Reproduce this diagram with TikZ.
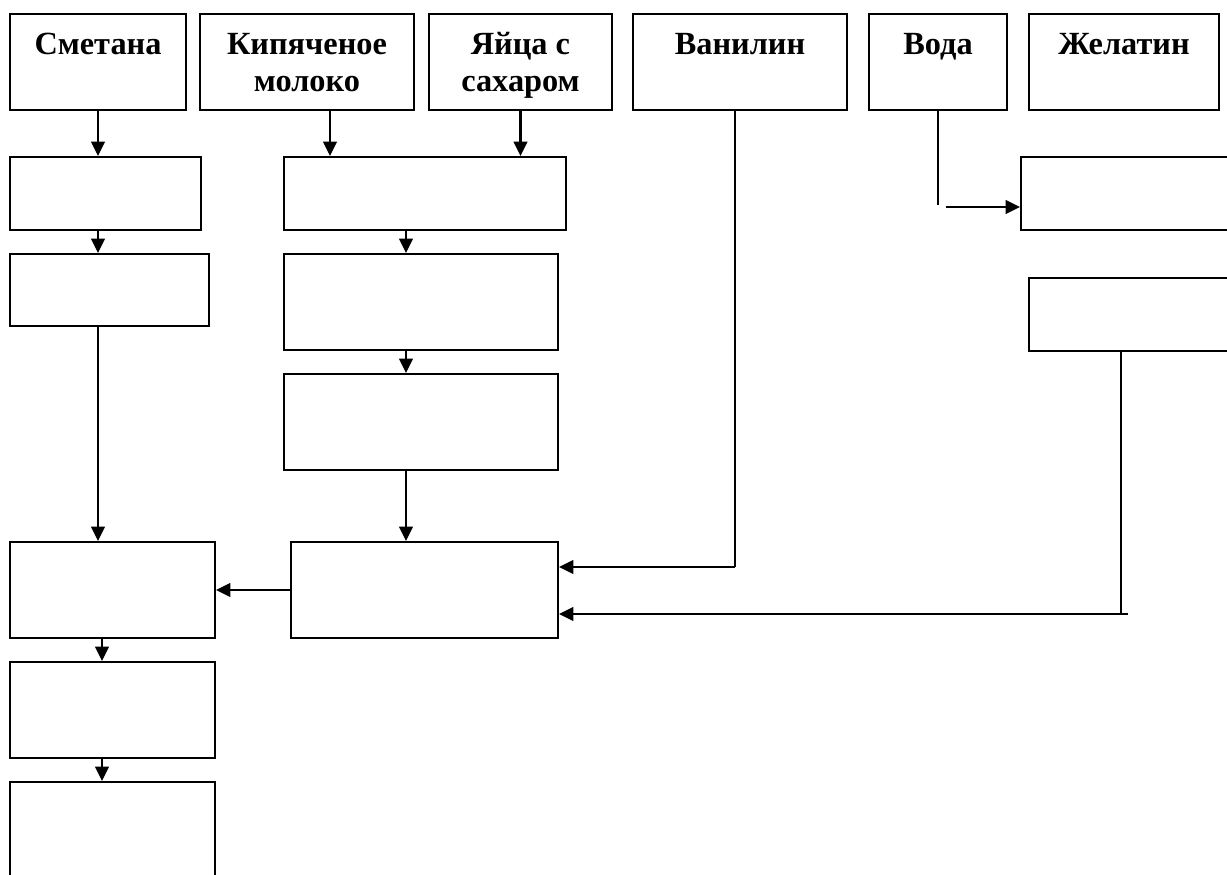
\documentclass[tikz,border=0pt]{standalone}
\usepackage{fontspec}
\setmainfont{Liberation Serif}
\usetikzlibrary{arrows.meta}

\newcommand{\twolines}[2]{\rule{0pt}{19pt}#1\\\strut#2}

\tikzset{
  ingr/.style={draw,rectangle,line width=1.1pt,inner sep=2pt,align=center,
    minimum width=#1,minimum height=19.2mm,
    font=\fontsize{18.4pt}{21pt}\selectfont\bfseries},
  stagebox/.style args={#1/#2}{draw,rectangle,line width=1.1pt,inner sep=0pt,
    minimum width=#1,minimum height=#2},
  flow/.style={line width=1.5pt,-{Triangle[length=2.9mm,width=2.7mm]}},
  feed/.style={line width=0.75pt}
}

\begin{document}
\begin{tikzpicture}[x=0.2mm,y=-0.2mm]
		\useasboundingbox (0,0) rectangle (1227,874);
		\fill[white] (0,0) rectangle (1227,874);
		\clip (0,0) rectangle (1227,874);
		% ingredients
		\node[ingr=35.2mm] (smetana) at (98,62) {\twolines{Сметана}{}};
		\node[ingr=42.8mm] (moloko) at (307,62) {\twolines{Кипяченое}{молоко}};
		\node[ingr=36.6mm] (yaitsa) at (520.5,62) {\twolines{Яйца с}{сахаром}};
		\node[ingr=42.8mm] (vanilin) at (740,62) {\twolines{Ванилин}{}};
		\node[ingr=27.6mm] (voda) at (938,62) {\twolines{Вода}{}};
		\node[ingr=38mm] (zhelatin) at (1124,62) {\twolines{Желатин}{}};
		% empty stages
		\node[stagebox=38.2mm/14.6mm] (a1) at (105.5,193.5) {};
		\node[stagebox=39.8mm/14.4mm] (a2) at (109.5,290) {};
		\node[stagebox=41mm/19.2mm] (a3) at (112.5,590) {};
		\node[stagebox=41mm/19.2mm] (a4) at (112.5,710) {};
		\node[stagebox=41mm/19.6mm] (a5) at (112.5,831) {};
		\node[stagebox=56.4mm/14.6mm] (b1) at (425,193.5) {};
		\node[stagebox=54.8mm/19.2mm] (b2) at (421,302) {};
		\node[stagebox=54.8mm/19.2mm] (b3) at (421,422) {};
		\node[stagebox=53.4mm/19.2mm] (b4) at (424.5,590) {};
		\node[stagebox=43.8mm/14.6mm] (c1) at (1130.5,193.5) {};
		\node[stagebox=42.2mm/14.6mm] (c2) at (1134.5,314.5) {};
		% smetana line
		\draw[flow] (smetana.south) -- (smetana.south |- a1.north);
		\draw[flow] (a1.south -| smetana.south) -- (a2.north -| smetana.south);
		\draw[flow] (a2.south -| smetana.south) -- (a3.north -| smetana.south);
		% milk and eggs
		\draw[flow] ([xshift=4.6mm]moloko.south) coordinate (m) -- (m |- b1.north);
		\draw[flow] (yaitsa.south) -- (yaitsa.south |- b1.north);
		\coordinate (bx) at ([xshift=-3mm]b2.north);
		\draw[flow] (b1.south -| bx) -- (bx);
		\draw[flow] (b2.south -| bx) -- (b3.north -| bx);
		\draw[flow] (b3.south -| bx) -- (b4.north -| bx);
		% vanillin
		\coordinate (vin) at ([yshift=4.6mm]b4.east);
		\coordinate (v) at ([xshift=-1mm]vanilin.south);
		\draw[feed] (v) -- (v |- vin);
		\draw[flow] (v |- vin) -- (vin);
		% water
		\coordinate (cin) at ([yshift=-2.7mm]c1.west);
		\coordinate (w) at ([xshift=1.6mm]voda.south);
		\draw[feed] (voda.south) -- ([yshift=0.4mm]voda.south |- cin);
		\draw[flow] (w |- cin) -- (cin);
		% gelatine
		\coordinate (gin) at ([yshift=-4.8mm]b4.east);
		\coordinate (g) at ([xshift=-2.7mm]c2.south);
		\coordinate (ge) at ([xshift=-1.3mm]c2.south);
		\draw[feed] (g) -- (g |- gin);
		\draw[flow] (ge |- gin) -- (gin);
		% mixing and further
		\draw[flow] (b4.west) -- (a3.east);
		\coordinate (ax) at ([xshift=-2.1mm]a3.south);
		\draw[flow] (ax) -- (a4.north -| ax);
		\draw[flow] (a4.south -| ax) -- (a5.north -| ax);
	\end{tikzpicture}
\end{document}
